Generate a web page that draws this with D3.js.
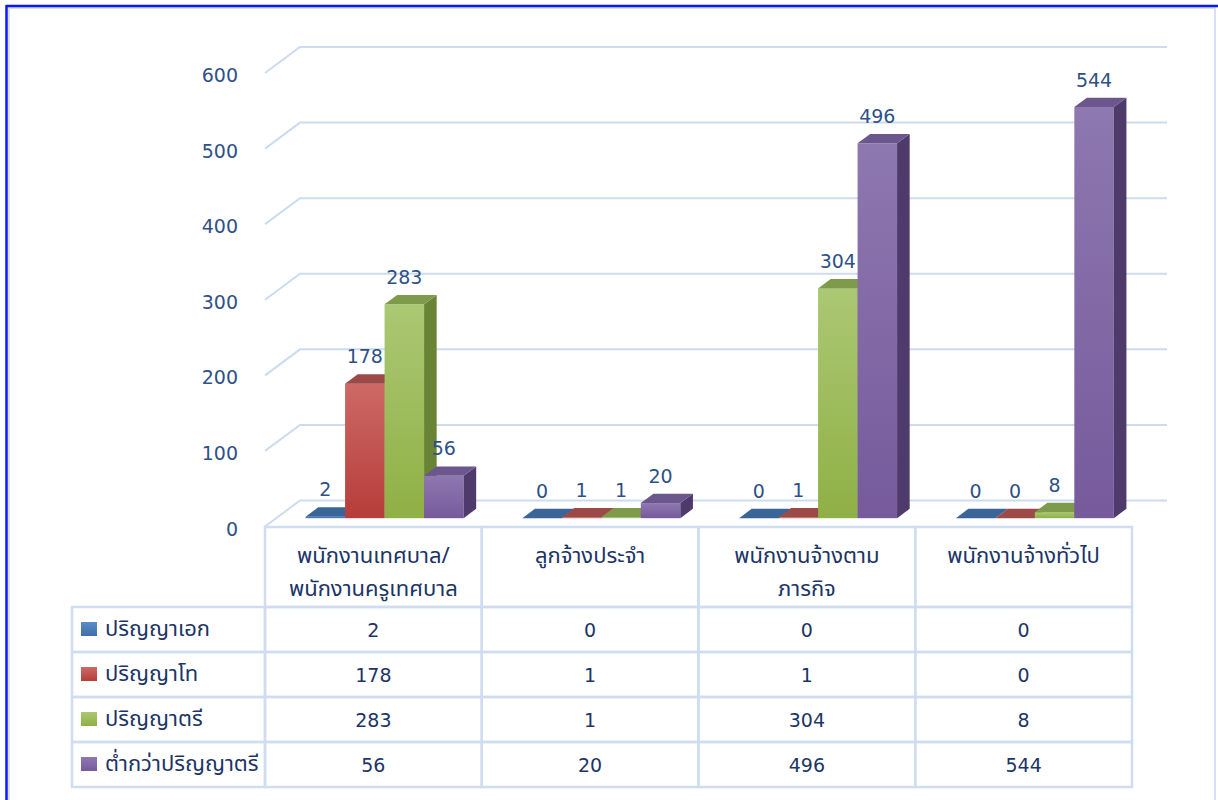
<!DOCTYPE html>
<html>
<head>
<meta charset="utf-8">
<script src="https://cdn.jsdelivr.net/npm/d3@7"></script>
<style>
  body { margin: 0; background: #fff; }
  text { font-family: "DejaVu Sans", Tahoma, sans-serif; }
  .thai { font-family: Tahoma, "Noto Sans Thai", "Noto Sans", "DejaVu Sans", sans-serif; }
</style>
</head>
<body>
<svg id="chart"></svg>
<script>
// data
const categories = [
  ['พนักงานเทศบาล/', 'พนักงานครูเทศบาล'],
  ['ลูกจ้างประจำ'],
  ['พนักงานจ้างตาม', 'ภารกิจ'],
  ['พนักงานจ้างทั่วไป']
];
const seriesNames = ['ปริญญาเอก', 'ปริญญาโท', 'ปริญญาตรี', 'ต่ำกว่าปริญญาตรี'];
const doctorate = [2, 0, 0, 0];
const master = [178, 1, 1, 0];
const bachelor = [283, 1, 304, 8];
const belowBachelor = [56, 20, 496, 544];
const yTicks = [0, 100, 200, 300, 400, 500, 600];

const seriesValues = [doctorate, master, bachelor, belowBachelor];

// colours for each series: front light/dark, side, top
const palette = [
  { light: '#5b8cc6', dark: '#3f6fa8', side: '#2f5483', top: '#3a6598' },
  { light: '#cd6966', dark: '#b63d3a', side: '#8b3331', top: '#9b4a47' },
  { light: '#abc873', dark: '#8fb045', side: '#6a8436', top: '#7e9a4b' },
  { light: '#8e78b0', dark: '#765a9c', side: '#4f3a6c', top: '#6c568e' }
];

const width = 1218, height = 800;
const svg = d3.select('#chart').attr('width', width).attr('height', height);

// outer frame
svg.append('rect')
  .attr('x', 9).attr('y', 8).attr('width', 1206).attr('height', 820)
  .attr('fill', 'none').attr('stroke', '#d6e2f3').attr('stroke-width', 2);
svg.append('line').attr('x1', 6).attr('x2', width).attr('y1', 6).attr('y2', 6)
  .attr('stroke', '#0a14ff').attr('stroke-width', 2.5);
svg.append('line').attr('x1', 6.5).attr('x2', 6.5).attr('y1', 5).attr('y2', height)
  .attr('stroke', '#0a14ff').attr('stroke-width', 2.5);

// depth of the 3D box and of the bars
const depth = { x: 35, y: -26 };
const barStart = 0.32, barDepth = 0.36;

const x = d3.scaleBand()
  .domain(d3.range(categories.length))
  .range([265, 1132]);

const xs = d3.scaleBand()
  .domain(d3.range(seriesNames.length))
  .range([0, 158]);

const y = d3.scaleLinear().domain([0, 600]).range([526.5, 73]);

const gridColor = '#cddbef';

// gridlines: front-left diagonal then along the back wall
const grid = svg.append('g');
yTicks.forEach(t => {
  grid.append('polyline')
    .attr('points', [
      [265, y(t)],
      [265 + depth.x, y(t) + depth.y],
      [x.range()[1] + depth.x, y(t) + depth.y]
    ].join(' '))
    .attr('fill', 'none')
    .attr('stroke', gridColor)
    .attr('stroke-width', 2);
});

// y tick labels
svg.append('g').selectAll('text')
  .data(yTicks)
  .join('text')
    .attr('x', 238)
    .attr('y', d => y(d) + 2)
    .attr('text-anchor', 'end')
    .attr('dominant-baseline', 'central')
    .attr('font-size', 19)
    .attr('fill', '#2e5187')
    .text(d => d);

// gradients for front faces
const defs = svg.append('defs');
palette.forEach((c, i) => {
  const g = defs.append('linearGradient')
    .attr('id', 'grad' + i)
    .attr('x1', 0).attr('y1', 0).attr('x2', 0).attr('y2', 1);
  g.append('stop').attr('offset', '0%').attr('stop-color', c.light);
  g.append('stop').attr('offset', '100%').attr('stop-color', c.dark);
});

// bars
const bars = svg.append('g');
const bx = depth.x * barStart, by = depth.y * barStart;
const dx = depth.x * barDepth, dy = depth.y * barDepth;

categories.forEach((cat, ci) => {
  const bandLeft = x(ci) + bx + (x.bandwidth() - 158) / 2;
  seriesValues.forEach((vals, si) => {
    const v = vals[ci];
    const x0 = bandLeft + xs(si);
    const x1 = x0 + xs.bandwidth();
    const yb = y(0) + by;
    const yt = y(v) + by;
    const c = palette[si];
    bars.append('rect')
      .attr('x', x0).attr('y', yt)
      .attr('width', x1 - x0).attr('height', yb - yt)
      .attr('fill', `url(#grad${si})`);
    bars.append('polygon')
      .attr('points', [[x1, yb], [x1 + dx, yb + dy], [x1 + dx, yt + dy], [x1, yt]].join(' '))
      .attr('fill', c.side);
    bars.append('polygon')
      .attr('points', [[x0, yt], [x1, yt], [x1 + dx, yt + dy], [x0 + dx, yt + dy]].join(' '))
      .attr('fill', c.top);
    bars.append('text')
      .attr('x', (x0 + x1) / 2)
      .attr('y', yt + dy - 11)
      .attr('text-anchor', 'middle')
      .attr('font-size', 19)
      .attr('fill', '#2e5187')
      .text(v);
  });
});

// data table
const table = svg.append('g');
const headerTop = 527, headerBottom = 607, rowH = 45;
const legendLeft = 72;
const lineColor = '#d0ddf0';
const textColor = '#1c3566';

// header cells
categories.forEach((cat, ci) => {
  table.append('rect')
    .attr('x', x(ci)).attr('y', headerTop)
    .attr('width', x.bandwidth()).attr('height', headerBottom - headerTop)
    .attr('fill', 'none').attr('stroke', lineColor).attr('stroke-width', 2.5);
  cat.forEach((line, li) => {
    table.append('text')
      .attr('class', 'thai')
      .attr('x', x(ci) + x.bandwidth() / 2)
      .attr('y', 556 + li * 33)
      .attr('text-anchor', 'middle')
      .attr('dominant-baseline', 'central')
      .attr('font-size', 22)
      .attr('fill', textColor)
      .text(line);
  });
});

// body rows
seriesNames.forEach((name, si) => {
  const top = headerBottom + si * rowH;
  table.append('rect')
    .attr('x', legendLeft).attr('y', top)
    .attr('width', x(0) - legendLeft).attr('height', rowH)
    .attr('fill', 'none').attr('stroke', lineColor).attr('stroke-width', 2.5);
  table.append('rect')
    .attr('x', 81).attr('y', top + 15)
    .attr('width', 16).attr('height', 14)
    .attr('fill', `url(#grad${si})`);
  table.append('text')
    .attr('class', 'thai')
    .attr('x', 105).attr('y', top + rowH / 2)
    .attr('dominant-baseline', 'central')
    .attr('font-size', 22)
    .attr('fill', textColor)
    .text(name);
  categories.forEach((cat, ci) => {
    table.append('rect')
      .attr('x', x(ci)).attr('y', top)
      .attr('width', x.bandwidth()).attr('height', rowH)
      .attr('fill', 'none').attr('stroke', lineColor).attr('stroke-width', 2.5);
    table.append('text')
      .attr('x', x(ci) + x.bandwidth() / 2)
      .attr('y', top + rowH / 2)
      .attr('text-anchor', 'middle')
      .attr('dominant-baseline', 'central')
      .attr('font-size', 19)
      .attr('fill', textColor)
      .text(seriesValues[si][ci]);
  });
});
</script>
</body>
</html>
